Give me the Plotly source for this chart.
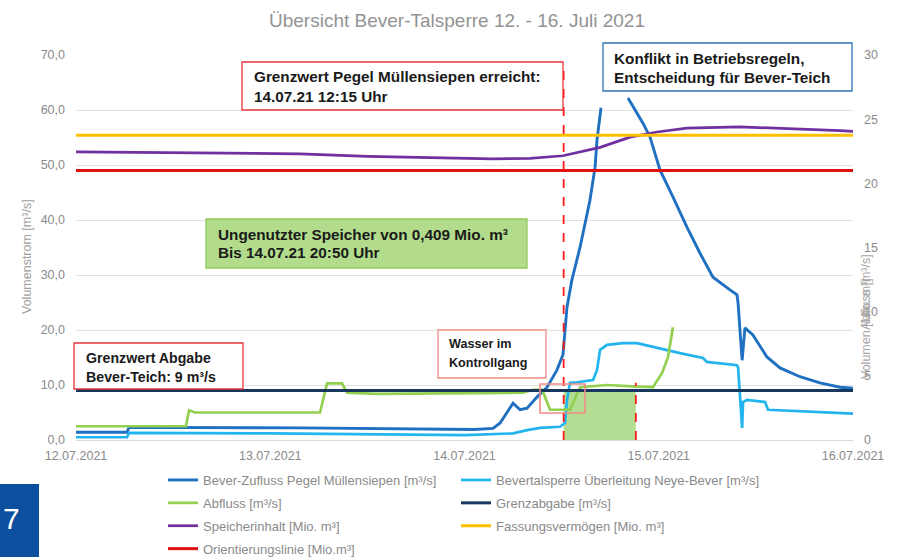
import plotly.graph_objects as go

# ---------------- data ----------------
t_zufluss = ["2021-07-12 00:00", "2021-07-12 06:18", "2021-07-12 06:33", "2021-07-13 03:40", "2021-07-14 01:12",
             "2021-07-14 03:32", "2021-07-14 04:24", "2021-07-14 05:15", "2021-07-14 06:00", "2021-07-14 06:52",
             "2021-07-14 07:44", "2021-07-14 08:57", "2021-07-14 10:12", "2021-07-14 11:25", "2021-07-14 12:10",
             "2021-07-14 12:40", "2021-07-14 13:16", "2021-07-14 14:17", "2021-07-14 15:30", "2021-07-14 16:08",
             "2021-07-14 16:22", "2021-07-14 16:52", "2021-07-14 17:30", "2021-07-14 20:12", "2021-07-14 22:03",
             "2021-07-14 22:55", "2021-07-15 00:09", "2021-07-15 01:45", "2021-07-15 03:29", "2021-07-15 05:05",
             "2021-07-15 06:42", "2021-07-15 08:48", "2021-07-15 09:40", "2021-07-15 09:48", "2021-07-15 10:18",
             "2021-07-15 10:39", "2021-07-15 11:38", "2021-07-15 13:22", "2021-07-15 14:59", "2021-07-15 17:27",
             "2021-07-15 19:55", "2021-07-15 22:24", "2021-07-16 00:00"]
v_zufluss = [1.4, 1.4, 2.3, 2.2, 1.9,
             2.1, 3.1, 5.0, 6.7, 5.5,
             5.8, 7.8, 9.6, 12.7, 15.5,
             24.2, 29.1, 35.1, 43.6, 49.6,
             54.5, 60.4, None, 62.2, 57.6,
             55.1, 49.1, 44.2, 38.7, 34.0,
             29.6, 27.3, 26.4, 24.9, 14.5,
             20.4, 19.1, 15.1, 13.1, 11.5,
             10.4, 9.6, 9.4]

t_ueberleitung = ["2021-07-12 00:00", "2021-07-12 06:18", "2021-07-12 06:33", "2021-07-13 00:00", "2021-07-14 00:00",
                  "2021-07-14 06:00", "2021-07-14 07:44", "2021-07-14 09:20", "2021-07-14 11:48", "2021-07-14 12:25",
                  "2021-07-14 12:40", "2021-07-14 13:02", "2021-07-14 13:54", "2021-07-14 15:53", "2021-07-14 16:22",
                  "2021-07-14 16:45", "2021-07-14 17:37", "2021-07-14 19:35", "2021-07-14 21:19", "2021-07-14 23:47",
                  "2021-07-15 02:37", "2021-07-15 05:28", "2021-07-15 05:57", "2021-07-15 09:40", "2021-07-15 09:48",
                  "2021-07-15 10:18", "2021-07-15 10:25", "2021-07-15 10:54", "2021-07-15 13:08", "2021-07-15 13:30",
                  "2021-07-15 22:24", "2021-07-16 00:00"]
v_ueberleitung = [0.5, 0.5, 1.3, 1.2, 0.9,
                  1.2, 1.8, 2.2, 2.4, 3.1,
                  7.3, 10.4, 10.5, 10.9, 12.7,
                  16.4, 17.3, 17.6, 17.6, 16.7,
                  15.8, 14.9, 14.2, 13.6, 13.2,
                  2.2, 6.9, 7.3, 6.9, 5.5,
                  4.9, 4.8]

t_abfluss = ["2021-07-12 00:00", "2021-07-12 13:35", "2021-07-12 13:58", "2021-07-12 14:42", "2021-07-13 06:09",
             "2021-07-13 07:01", "2021-07-13 08:52", "2021-07-13 09:29", "2021-07-13 13:12", "2021-07-14 07:12",
             "2021-07-14 08:24", "2021-07-14 09:36", "2021-07-14 10:34", "2021-07-14 13:02", "2021-07-14 14:17",
             "2021-07-14 17:37", "2021-07-14 21:19", "2021-07-14 23:17", "2021-07-15 00:25", "2021-07-15 01:09",
             "2021-07-15 01:45"]
v_abfluss = [2.5, 2.5, 5.4, 5.0, 5.0,
             10.3, 10.3, 8.6, 8.4, 8.6,
             9.1, 9.1, 5.5, 5.5, 9.6,
             10.0, 9.7, 9.6, 12.2, 15.1,
             20.5]

t_const = ["2021-07-12 00:00", "2021-07-16 00:00"]
v_grenzabgabe = [9.0, 9.0]
v_fassung = [23.75, 23.75]
v_orientierung = [21.0, 21.0]

t_speicher = ["2021-07-12 00:00", "2021-07-12 06:40", "2021-07-13 03:40", "2021-07-13 12:00", "2021-07-14 03:32",
              "2021-07-14 08:05", "2021-07-14 12:10", "2021-07-14 16:45", "2021-07-14 20:27", "2021-07-14 23:47",
              "2021-07-15 03:29", "2021-07-15 10:02", "2021-07-15 14:59", "2021-07-15 22:24", "2021-07-16 00:00"]
v_speicher = [22.45, 22.4, 22.3, 22.1, 21.9,
              21.95, 22.15, 22.8, 23.6, 24.0,
              24.3, 24.4, 24.3, 24.1, 24.05]

t_ungenutzt = ["2021-07-14 12:15", "2021-07-14 21:10"]
v_ungenutzt = [9.0, 9.0]

x_ticks = ["2021-07-12", "2021-07-13", "2021-07-14", "2021-07-15", "2021-07-16"]
x_ticktext = ["12.07.2021", "13.07.2021", "14.07.2021", "15.07.2021", "16.07.2021"]

# ---------------- layout helpers ----------------
W, H = 903, 557
L, R, T, B = 76, 853, 55, 440


def px(x):
    return (x - L) / (R - L)


def py(y):
    return (B - y) / (B - T)


FONT = "Arial, Liberation Sans, sans-serif"
GREY = "#8a8a8a"

fig = go.Figure()

# unused storage fill
fig.add_trace(go.Scatter(x=t_ungenutzt, y=v_ungenutzt, mode="lines", line=dict(width=0),
                         fill="tozeroy", fillcolor="rgba(160,212,120,0.8)", showlegend=False,
                         hoverinfo="skip"))

lw = 2.7
fig.add_trace(go.Scatter(x=t_zufluss, y=v_zufluss, name="Bever-Zufluss Pegel Müllensiepen [m³/s]",
                         mode="lines", line=dict(color="#1f70c1", width=2.9), legend="legend",
                         legendgroup="a", connectgaps=False))
fig.add_trace(go.Scatter(x=t_ueberleitung, y=v_ueberleitung, name="Bevertalsperre Überleitung Neye-Bever [m³/s]",
                         mode="lines", line=dict(color="#22b4ef", width=lw), legend="legend2", legendgroup="b"))
fig.add_trace(go.Scatter(x=t_abfluss, y=v_abfluss, name="Abfluss [m³/s]",
                         mode="lines", line=dict(color="#92d050", width=lw), legend="legend", legendgroup="c"))
fig.add_trace(go.Scatter(x=t_const, y=v_grenzabgabe, name="Grenzabgabe [m³/s]",
                         mode="lines", line=dict(color="#17375e", width=3), legend="legend2", legendgroup="d"))
fig.add_trace(go.Scatter(x=t_speicher, y=v_speicher, name="Speicherinhalt [Mio. m³]", yaxis="y2",
                         mode="lines", line=dict(color="#7030a0", width=lw), legend="legend", legendgroup="e"))
fig.add_trace(go.Scatter(x=t_const, y=v_fassung, name="Fassungsvermögen [Mio. m³]", yaxis="y2",
                         mode="lines", line=dict(color="#ffc000", width=3), legend="legend2", legendgroup="f"))
fig.add_trace(go.Scatter(x=t_const, y=v_orientierung, name="Orientierungslinie [Mio.m³]", yaxis="y2",
                         mode="lines", line=dict(color="#e01010", width=3), legend="legend", legendgroup="g"))

shapes = []
# dashed verticals
shapes.append(dict(type="line", xref="x", yref="y", x0=t_ungenutzt[0], x1=t_ungenutzt[0], y0=0, y1=68.7,
                   line=dict(color="#ff1a1a", width=1.8, dash="dash")))
shapes.append(dict(type="line", xref="x", yref="y", x0=t_ungenutzt[1], x1=t_ungenutzt[1], y0=0, y1=10.4,
                   line=dict(color="#ff1a1a", width=1.8, dash="dash")))


def box(x0, y0, x1, y1, line, fill="rgba(255,255,255,1)", width=1.3):
    shapes.append(dict(type="rect", xref="paper", yref="paper", x0=px(x0), x1=px(x1), y0=py(y1), y1=py(y0),
                       line=dict(color=line, width=width), fillcolor=fill, layer="above"))


box(242, 62, 563, 110, "#e8343a")
box(603, 43, 852, 91, "#2e75b6")
box(206, 219, 527, 268, "#8fcb5a", fill="#b2dc8c")
box(438, 330, 546, 378, "#f08a84")
box(74, 343, 243, 389, "#e8343a")
box(540, 384, 585, 413, "#f08a84", fill="rgba(0,0,0,0)", width=1.6)
# slide page number block
shapes.append(dict(type="rect", xref="paper", yref="paper", x0=px(0), x1=px(39), y0=py(557), y1=py(484),
                   line=dict(width=0), fillcolor="#0b4f9e", layer="above"))

annotations = []


def label(text, x, y, size=15.3, bold=True, color="#1a1a1a"):
    annotations.append(dict(text=f"<b>{text}</b>" if bold else text, xref="paper", yref="paper",
                            x=px(x), y=py(y), xanchor="left", yanchor="middle", showarrow=False,
                            font=dict(family=FONT, size=size, color=color)))


label("Grenzwert Pegel Müllensiepen erreicht:", 252, 76)
label("14.07.21 12:15 Uhr", 252, 96)
label("Konflikt in Betriebsregeln,", 612, 58)
label("Entscheidung für Bever-Teich", 612, 77)
label("Ungenutzter Speicher von 0,409 Mio. m³", 216, 234)
label("Bis 14.07.21 20:50 Uhr", 216, 253)
label("Wasser im", 447, 344, size=12.6)
label("Kontrollgang", 447, 363, size=12.6)
label("Grenzwert Abgabe", 84, 358, size=14.2)
label("Bever-Teich: 9 m³/s", 84, 377, size=14.2)

# axis titles
annotations.append(dict(text="Volumenstrom [m³/s]", xref="paper", yref="paper", x=px(27), y=py(257),
                        textangle=-90, showarrow=False, xanchor="center", yanchor="middle",
                        font=dict(family=FONT, size=12.5, color="#a0a0a0")))
annotations.append(dict(text="Volumen [Mio. m³]", xref="paper", yref="paper", x=px(866), y=py(328),
                        textangle=-90, showarrow=False, xanchor="center", yanchor="middle",
                        font=dict(family=FONT, size=12.5, color="#a8a8a8")))
annotations.append(dict(text="Abfluss [m³/s]", xref="paper", yref="paper", x=px(866), y=py(292),
                        textangle=-90, showarrow=False, xanchor="center", yanchor="middle",
                        font=dict(family=FONT, size=12.5, color="#a8a8a8")))
# page number
annotations.append(dict(text="7", xref="paper", yref="paper", x=px(11), y=py(518), showarrow=False,
                        xanchor="center", yanchor="middle", font=dict(family=FONT, size=30, color="white")))

legend_common = dict(orientation="v", xref="container", yref="container", xanchor="left", yanchor="top",
                     tracegroupgap=3, font=dict(family=FONT, size=13, color=GREY),
                     bgcolor="rgba(0,0,0,0)", itemwidth=30)

fig.update_layout(
    width=W, height=H,
    margin=dict(l=L, r=W - R, t=T, b=H - B, pad=0, autoexpand=False),
    paper_bgcolor="white", plot_bgcolor="white",
    separators=",.",
    title=dict(text="Übersicht Bever-Talsperre 12. - 16. Juli 2021", x=457 / W, xanchor="center",
               y=1 - 20 / H, yanchor="middle", font=dict(family=FONT, size=19, color="#939393")),
    font=dict(family=FONT, color=GREY),
    xaxis=dict(type="date", range=[x_ticks[0], x_ticks[-1]], tickvals=x_ticks, ticktext=x_ticktext,
               showgrid=False, showline=True, linecolor="#d9d9d9", linewidth=1, ticks="",
               tickfont=dict(size=12.5, color=GREY), ticklabelstandoff=4, zeroline=False),
    yaxis=dict(range=[0, 70], dtick=10, tickformat=".1f", showgrid=True, gridcolor="#e2e2e2", gridwidth=1,
               zeroline=False, showline=False, ticks="", tickfont=dict(size=12.5, color=GREY),
               ticklabelstandoff=10),
    yaxis2=dict(range=[0, 30], dtick=5, overlaying="y", side="right", showgrid=False, zeroline=False,
                showline=False, ticks="", tickfont=dict(size=12.5, color=GREY), ticklabelstandoff=10),
    legend=dict(x=163 / W, y=1 - 465 / H, **legend_common),
    legend2=dict(x=456 / W, y=1 - 465 / H, **legend_common),
    shapes=shapes,
    annotations=annotations,
    hovermode=False,
)

fig.write_html("out.html", config={"displayModeBar": False},
               post_script="document.body.style.margin='0';document.body.style.overflow='hidden';")
